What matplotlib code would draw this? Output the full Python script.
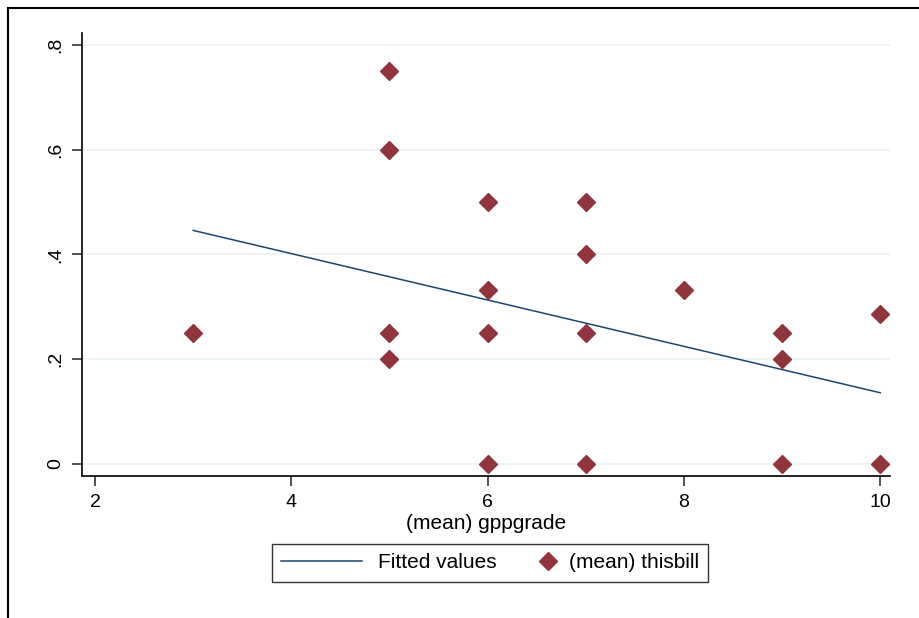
import matplotlib.pyplot as plt
from matplotlib.lines import Line2D
from matplotlib.legend_handler import HandlerBase

# scatter points: (mean) thisbill by (mean) gppgrade
grade = [3, 5, 5, 5, 5, 6, 6, 6, 6, 7, 7, 7, 7, 8, 9, 9, 9, 10, 10]
thisbill = [0.25, 0.75, 0.6, 0.25, 0.2, 0.5, 0.333, 0.25, 0.0,
            0.5, 0.4, 0.25, 0.0, 0.333, 0.25, 0.2, 0.0, 0.2857, 0.0]

# fitted line endpoints
fit_x = [3, 10]
fit_y = [0.446, 0.136]

xticks = [2, 4, 6, 8, 10]
yticks = [0, 0.2, 0.4, 0.6, 0.8]
ylabels = ["0", ".2", ".4", ".6", ".8"]


class RightMarker(HandlerBase):
    # draw the marker at the right end of the handle box, close to its text
    def create_artists(self, legend, orig_handle, xdescent, ydescent,
                       width, height, fontsize, trans):
        x = -xdescent + width - 0.25 * fontsize
        y = (height - ydescent) / 2
        m = Line2D([x], [y], ls='none', marker=orig_handle.get_marker(),
                   ms=orig_handle.get_markersize(),
                   color=orig_handle.get_color(), transform=trans)
        return [m]


plt.rcParams['font.family'] = ['Liberation Sans', 'DejaVu Sans']

fig = plt.figure(figsize=(9.2, 6.18), dpi=100)
ax = fig.add_axes([82 / 920, 1 - 476 / 618, (890 - 82) / 920, (476 - 33) / 618])

ax.plot(fit_x, fit_y, color='#1a476f', lw=1.1, label='Fitted values', zorder=3)
dots, = ax.plot(grade, thisbill, ls='none', marker='D', ms=9, color='#90353b',
                label='(mean) thisbill', zorder=4)

ax.set_xlim(1.867, 10.1)
ax.set_ylim(-0.023, 0.823)
ax.set_xticks(xticks)
ax.set_yticks(yticks)
ax.set_yticklabels(ylabels, rotation=90, va='center')
ax.tick_params(axis='both', direction='out', length=7, width=1.2,
               color='#333333', labelsize=14, pad=6)
ax.grid(axis='y', color='#eaf2f3', lw=1.2)
ax.set_axisbelow(True)
for s in ['top', 'right']:
    ax.spines[s].set_visible(False)
for s in ['left', 'bottom']:
    ax.spines[s].set_linewidth(1.2)

ax.set_xlabel('(mean) gppgrade', fontsize=15, labelpad=2)

leg = fig.legend(loc='center', bbox_to_anchor=(490 / 920, 1 - 563 / 618),
                 ncol=2, fontsize=15, frameon=True, fancybox=False,
                 edgecolor='black', handlelength=3.9, handletextpad=0.75,
                 columnspacing=-1.2, borderpad=0.45,
                 handler_map={dots: RightMarker()})
leg.get_frame().set_linewidth(1.0)

# outer frame edge
fig.add_artist(Line2D([8 / 920, 8 / 920], [0, 1 - 8 / 618], color='black', lw=1.5,
                      transform=fig.transFigure))
fig.add_artist(Line2D([8 / 920, 1], [1 - 8 / 618, 1 - 8 / 618], color='black', lw=1.5,
                      transform=fig.transFigure))

fig.savefig('out.png', dpi=100)
